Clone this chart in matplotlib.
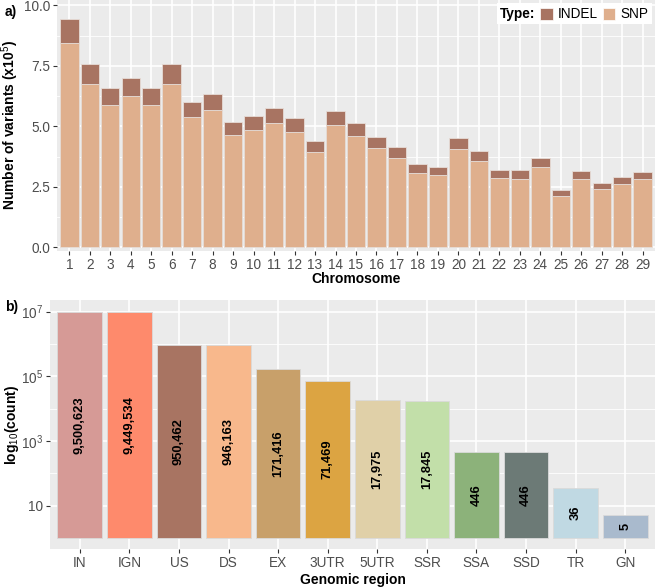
import numpy as np
import matplotlib
matplotlib.use('Agg')
import matplotlib.pyplot as plt
from matplotlib.patches import Rectangle
from matplotlib.offsetbox import AnchoredOffsetbox, HPacker, TextArea, DrawingArea
from matplotlib import ticker

plt.rcParams['font.family'] = ['Liberation Sans', 'DejaVu Sans']
plt.rcParams['mathtext.fontset'] = 'custom'
plt.rcParams['mathtext.rm'] = 'Liberation Sans'
plt.rcParams['mathtext.bf'] = 'Liberation Sans:bold'

# panel a: variants per chromosome (x10^5)
chromosomes = [str(i) for i in range(1, 30)]
snp = [8.43, 6.73, 5.88, 6.26, 5.88, 6.73, 5.38, 5.66, 4.64, 4.86,
       5.14, 4.76, 3.94, 5.04, 4.61, 4.09, 3.70, 3.06, 2.97, 4.05,
       3.55, 2.86, 2.82, 3.32, 2.13, 2.82, 2.40, 2.63, 2.81]
indel = [1.00, 0.83, 0.69, 0.75, 0.69, 0.83, 0.64, 0.66, 0.54, 0.58,
         0.60, 0.60, 0.44, 0.59, 0.54, 0.48, 0.46, 0.37, 0.34, 0.47,
         0.43, 0.33, 0.36, 0.37, 0.24, 0.32, 0.26, 0.29, 0.30]

# panel b: counts per genomic region
regions = ['IN', 'IGN', 'US', 'DS', 'EX', '3UTR', '5UTR', 'SSR', 'SSA', 'SSD', 'TR', 'GN']
counts = [9500623, 9449534, 950462, 946163, 171416, 71469, 17975, 17845, 446, 446, 36, 5]
region_colors = ['#D69A96', '#FE8A6C', '#A87462', '#F8B88C', '#C8A06A', '#DCA442',
                 '#E0D0A8', '#C2DFA9', '#8CB27A', '#6C7A76', '#C0D9E3', '#A9BACD']

snp_color = '#DFAF8D'
indel_color = '#A87462'
panel_bg = '#EBEBEB'
tick_col = '#4D4D4D'


def style_panel(ax):
    ax.set_facecolor(panel_bg)
    for s in ax.spines.values():
        s.set_visible(False)
    ax.grid(True, which='major', color='white', linewidth=1.2)
    ax.grid(True, which='minor', axis='y', color='white', linewidth=0.6)
    ax.set_axisbelow(True)
    ax.tick_params(which='major', length=3, width=0.8, color='#333333',
                   labelsize=9.8, labelcolor=tick_col, pad=2)
    ax.tick_params(which='minor', length=0)


fig = plt.figure(figsize=(6.6, 5.88), dpi=100)

# ---- panel a ----
ax1 = fig.add_axes([57 / 660, 1 - 251 / 588, 598 / 660, 251 / 588])
style_panel(ax1)
x = np.arange(1, len(chromosomes) + 1)
ax1.bar(x, snp, width=0.9, color=snp_color, edgecolor='#E6DCD6', linewidth=0.6, zorder=2)
ax1.bar(x, indel, bottom=snp, width=0.9, color=indel_color, edgecolor='#E6DCD6',
        linewidth=0.6, zorder=2)
ax1.set_xlim(0.4, 29.6)
ax1.set_ylim(-0.15, 10.22)
ax1.set_xticks(x)
ax1.set_xticklabels(chromosomes)
ax1.set_yticks([0, 2.5, 5, 7.5, 10])
ax1.yaxis.set_major_formatter(ticker.FormatStrFormatter('%.1f'))
ax1.yaxis.set_minor_locator(ticker.FixedLocator([1.25, 3.75, 6.25, 8.75]))
ax1.set_xlabel('Chromosome', fontsize=10, fontweight='bold')
ax1.set_ylabel('Number of variants (x10$^{5}$)', fontsize=10, fontweight='bold')
ax1.xaxis.set_label_coords(0.5, -0.082)
ax1.yaxis.set_label_coords(-0.061, 0.5)

# legend drawn as a row: "Type:" [INDEL] [SNP]
items = [TextArea('Type:', textprops=dict(fontsize=9.8, fontweight='bold', color='black'))]
for lab, col in [('INDEL', indel_color), ('SNP', snp_color)]:
    da = DrawingArea(9, 9, 0, 0)
    da.add_artist(Rectangle((0, 0), 9, 9, facecolor=col, edgecolor='white', linewidth=0.5))
    items.append(da)
    items.append(TextArea(lab, textprops=dict(fontsize=9.8, color='black')))
row = HPacker(children=items, align='center', pad=0, sep=3.5)
leg = AnchoredOffsetbox(loc='upper right', child=row, pad=0.25, borderpad=0.25, frameon=True)
leg.patch.set_facecolor('white')
leg.patch.set_edgecolor('none')
leg.set_zorder(5)
ax1.add_artist(leg)

# ---- panel b ----
ax2 = fig.add_axes([50 / 660, 1 - 549 / 588, 605 / 660, 249 / 588])
style_panel(ax2)
xb = np.arange(len(regions))
ax2.set_yscale('log')
ax2.bar(xb, np.array(counts) - 1, bottom=1, width=0.9, color=region_colors,
        edgecolor='#DADADA', linewidth=0.6, zorder=2)
for xi, c in zip(xb, counts):
    ax2.text(xi, np.sqrt(c), f'{c:,}', rotation=90, ha='center', va='center',
             fontsize=9.3, fontweight='bold', color='black', zorder=3)
ax2.set_xlim(-0.6, 11.6)
ax2.set_ylim(10 ** -0.34, 10 ** 7.36)
ax2.yaxis.set_major_locator(ticker.FixedLocator([1e1, 1e3, 1e5, 1e7]))
ax2.yaxis.set_major_formatter(ticker.FixedFormatter(['10', '10$^{3}$', '10$^{5}$', '10$^{7}$']))
ax2.yaxis.set_minor_locator(ticker.FixedLocator([1e2, 1e4, 1e6]))
ax2.yaxis.set_minor_formatter(ticker.NullFormatter())
ax2.set_xticks(xb)
ax2.set_xticklabels(regions)
ax2.set_xlabel('Genomic region', fontsize=10, fontweight='bold')
ax2.set_ylabel('log$_{10}$(count)', fontsize=10, fontweight='bold')
ax2.xaxis.set_label_coords(0.5, -0.098)
ax2.yaxis.set_label_coords(-0.048, 0.5)

fig.text(5 / 660, 1 - 12 / 588, 'a)', fontsize=10, fontweight='bold', va='center', ha='left')
fig.text(5 / 660, 1 - 307 / 588, 'b)', fontsize=10, fontweight='bold', va='center', ha='left')

fig.savefig('out.png', dpi=100)
